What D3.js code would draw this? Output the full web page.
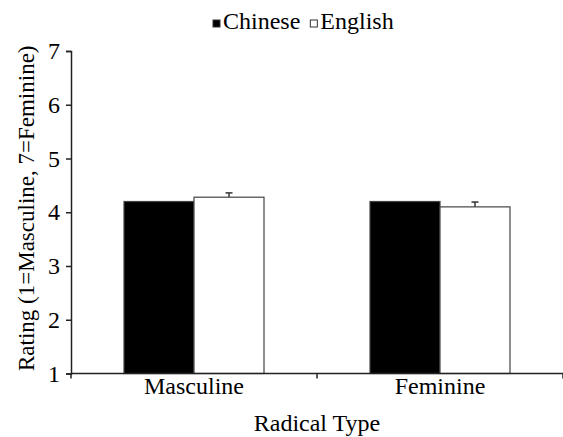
<!DOCTYPE html>
<html lang="en">
<head>
    <meta charset="UTF-8">
    <title>Radical Type Ratings</title>
    <script src="https://d3js.org/d3.v7.min.js"></script>
    <style>
        body { margin: 0; background: #fff; }
    </style>
</head>
<body>
<svg id="chart"></svg>
<script>
    const categories = ["Masculine", "Feminine"];
    const seriesNames = ["Chinese", "English"];
    const chineseValues = [4.20, 4.20];
    const englishValues = [4.28, 4.10];
    const englishErrors = [0.08, 0.09];
    const yTicks = [1, 2, 3, 4, 5, 6, 7];

    const FONT = "'Liberation Serif', 'Times New Roman', serif";
    const FS = "24px";

    const width = 563, height = 437;
    const margin = {top: 51, right: 0, bottom: 63.5, left: 71};
    const plotW = width - margin.left - margin.right;
    const plotH = height - margin.top - margin.bottom;

    const svg = d3.select("#chart").attr("width", width).attr("height", height);
    const g = svg.append("g").attr("transform", "translate(" + margin.left + "," + margin.top + ")");

    const y = d3.scaleLinear().domain([1, 7]).range([plotH, 0]);
    const x = d3.scaleBand().domain(categories).range([0, plotW]);
    const barW = 70;
    const colors = {Chinese: "#000", English: "#fff"};

    const data = categories.map(function(c, i) {
        return [
            {cat: c, series: "Chinese", value: chineseValues[i], err: 0},
            {cat: c, series: "English", value: englishValues[i], err: englishErrors[i]}
        ];
    });

    const groups = g.selectAll("g.grp").data(data).enter().append("g")
        .attr("class", "grp")
        .attr("transform", function(d) { return "translate(" + (x(d[0].cat) + x.bandwidth() / 2 - barW) + ",0)"; });

    // error bars, upward only
    groups.selectAll("g.err").data(function(d) { return d.filter(function(e) { return e.err > 0; }); })
        .enter().append("g")
        .attr("class", "err")
        .each(function(d) {
            const cx = seriesNames.indexOf(d.series) * barW + barW / 2;
            const e = d3.select(this);
            e.append("line").attr("x1", cx).attr("x2", cx)
                .attr("y1", y(d.value)).attr("y2", y(d.value + d.err))
                .attr("stroke", "#333").attr("stroke-width", 1.5);
            e.append("line").attr("x1", cx - 3.5).attr("x2", cx + 3.5)
                .attr("y1", y(d.value + d.err)).attr("y2", y(d.value + d.err))
                .attr("stroke", "#333").attr("stroke-width", 1.5);
        });

    groups.selectAll("rect").data(function(d) { return d; }).enter().append("rect")
        .attr("x", function(d, i) { return i * barW; })
        .attr("y", function(d) { return y(d.value); })
        .attr("width", barW)
        .attr("height", function(d) { return plotH - y(d.value); })
        .attr("fill", function(d) { return colors[d.series]; })
        .attr("stroke", "#444")
        .attr("stroke-width", 1.2);

    // y axis
    const yAxis = g.append("g").call(d3.axisLeft(y).tickValues(yTicks).tickFormat(d3.format("d")).tickSize(5).tickPadding(6));
    yAxis.selectAll("text").style("font-size", FS).style("font-family", FONT).attr("fill", "#000");
    yAxis.selectAll("line, path").attr("stroke", "#222").attr("stroke-width", 1.5);

    // x axis with boundary ticks
    const xAxis = g.append("g").attr("transform", "translate(0," + plotH + ")");
    xAxis.append("line").attr("x1", 0).attr("x2", plotW).attr("y1", 0).attr("y2", 0)
        .attr("stroke", "#222").attr("stroke-width", 1.5);
    xAxis.selectAll("line.tk").data([0, x.bandwidth(), plotW]).enter().append("line")
        .attr("class", "tk")
        .attr("x1", function(d) { return d; }).attr("x2", function(d) { return d; })
        .attr("y1", 0).attr("y2", 5)
        .attr("stroke", "#222").attr("stroke-width", 1.5);
    xAxis.selectAll("text").data(categories).enter().append("text")
        .attr("x", function(d) { return x(d) + x.bandwidth() / 2; })
        .attr("y", 20)
        .attr("text-anchor", "middle")
        .style("font-size", FS).style("font-family", FONT)
        .text(function(d) { return d; });

    // axis titles
    svg.append("text")
        .attr("x", margin.left + x.bandwidth())
        .attr("y", 431)
        .attr("text-anchor", "middle")
        .style("font-size", FS).style("font-family", FONT)
        .text("Radical Type");

    svg.append("text")
        .attr("transform", "translate(34," + (margin.top + plotH / 2 - 4) + ") rotate(-90)")
        .attr("text-anchor", "middle")
        .style("font-size", "23px").style("font-family", FONT)
        .text("Rating (1=Masculine, 7=Feminine)");

    // legend
    const legend = svg.append("g").attr("transform", "translate(213,29)");
    let lx = 0;
    seriesNames.forEach(function(s) {
        legend.append("rect").attr("x", lx).attr("y", -9).attr("width", 7).attr("height", 7)
            .attr("fill", colors[s]).attr("stroke", "#333").attr("stroke-width", 1);
        const t = legend.append("text").attr("x", lx + 10).attr("y", 0)
            .style("font-size", FS).style("font-family", FONT).text(s);
        lx += 10 + t.node().getComputedTextLength() + 10;
    });
</script>
</body>
</html>
